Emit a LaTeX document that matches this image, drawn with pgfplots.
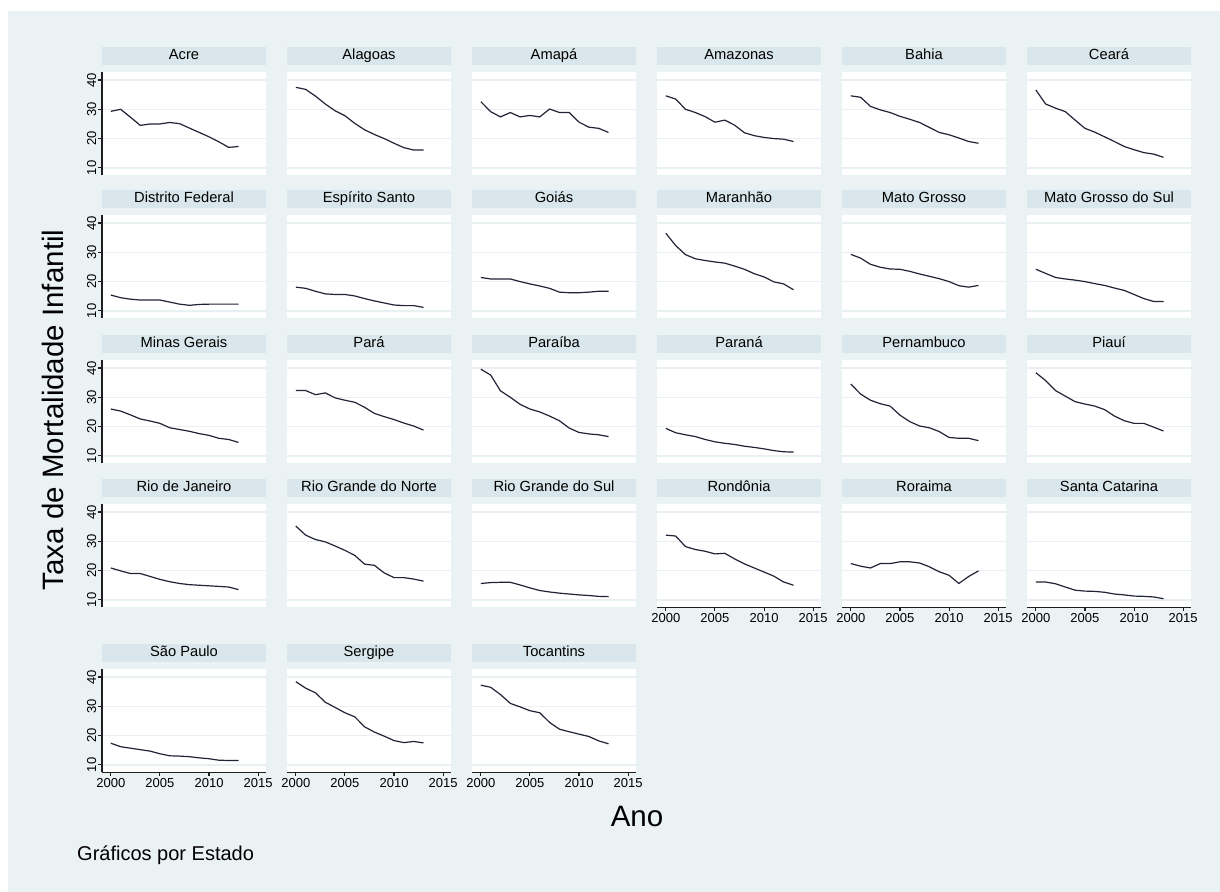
\documentclass[border=0pt]{standalone}
\usepackage{pgfplots}
\usepackage{pgfplotstable}
\pgfplotsset{compat=1.18}
\usepackage{fontspec}
\setmainfont{Liberation Sans}
\definecolor{bgc}{RGB}{234,242,243}
\definecolor{hdrc}{RGB}{217,230,235}
\definecolor{gridc}{RGB}{232,240,242}
\definecolor{linec}{RGB}{35,35,55}
\definecolor{axc}{RGB}{30,30,30}
\newcommand\tfont{\fontsize{14.7bp}{16bp}\selectfont}
\newcommand\tickfont{\fontsize{13bp}{14bp}\selectfont}

\pgfplotstableread{
yr   ac   al   ap   am   ba   ce   df   es   go   ma   mt   ms   mg   pa   pb   pr   pe   pi   rj   rn   rs   ro   rr   sc   sp   se   to
2000 29.3 37.5 32.6 34.6 34.6 36.6 15.4 18.1 21.4 36.5 29.3 24.2 26.0 32.3 39.6 19.4 34.5 38.4 20.9 35.2 15.6 32.1 22.4 16.1 17.4 38.4 37.2
2001 30.0 36.8 29.2 33.5 34.1 31.8 14.5 17.7 20.9 32.3 28.0 22.8 25.3 32.3 37.6 17.9 31.1 35.7 19.9 32.1 15.9 31.8 21.5 16.1 16.2 36.2 36.5
2002 27.3 34.5 27.4 30.0 31.0 30.4 14.0 16.7 20.9 29.2 25.9 21.4 24.0 30.9 32.2 17.2 29.0 32.3 19.0 30.6 16.0 28.2 20.9 15.5 15.7 34.6 34.0
2003 24.5 31.8 28.9 28.9 29.8 29.2 13.7 15.8 20.9 27.8 24.9 20.9 22.6 31.5 30.0 16.6 27.8 30.4 19.0 29.8 16.0 27.2 22.4 14.4 15.2 31.4 31.0
2004 25.0 29.5 27.4 27.5 28.9 26.3 13.7 15.6 20.0 27.2 24.3 20.5 21.9 29.8 27.6 15.6 27.0 28.5 18.0 28.4 15.1 26.6 22.4 13.3 14.7 29.6 29.8
2005 25.0 27.8 27.9 25.6 27.6 23.5 13.7 15.6 19.2 26.7 24.2 20.0 21.1 29.0 26.0 14.8 23.9 27.7 17.0 26.9 14.1 25.7 23.0 13.0 13.8 27.8 28.5
2006 25.5 25.2 27.4 26.3 26.6 22.2 13.0 15.1 18.5 26.3 23.5 19.3 19.6 28.3 25.0 14.3 21.7 27.0 16.2 25.2 13.2 25.9 23.0 12.9 13.1 26.4 27.8
2007 25.1 23.0 30.1 24.6 25.5 20.6 12.3 14.2 17.7 25.3 22.6 18.7 19.0 26.6 23.6 13.9 20.2 25.8 15.6 22.2 12.7 24.0 22.6 12.6 13.0 23.0 24.5
2008 23.6 21.4 28.9 22.0 23.8 19.0 11.9 13.4 16.4 24.2 21.8 17.8 18.4 24.5 22.0 13.3 19.6 23.6 15.2 21.8 12.3 22.3 21.3 12.0 12.8 21.2 22.2
2009 22.1 20.0 28.9 21.0 22.1 17.3 12.2 12.7 16.2 22.7 21.0 17.0 17.6 23.4 19.5 12.9 18.3 22.0 15.0 19.2 12.0 20.9 19.6 11.7 12.4 19.8 21.3
2010 20.6 18.4 25.6 20.4 21.3 16.2 12.3 12.0 16.2 21.6 20.0 15.6 17.0 22.4 18.0 12.4 16.3 21.1 14.8 17.6 11.7 19.5 18.4 11.3 12.1 18.3 20.5
2011 18.9 16.9 23.9 20.0 20.2 15.2 12.3 11.8 16.4 19.9 18.6 14.2 16.0 21.2 17.5 11.8 16.0 21.1 14.6 17.6 11.5 18.1 15.6 11.2 11.6 17.6 19.7
2012 17.0 16.1 23.5 19.8 19.0 14.7 12.3 11.8 16.7 19.2 18.1 13.2 15.6 20.2 17.2 11.4 16.0 19.8 14.4 17.1 11.2 16.1 18.0 11.0 11.5 18.0 18.2
2013 17.3 16.1 22.1 19.0 18.4 13.6 12.3 11.2 16.7 17.2 18.7 13.2 14.6 18.8 16.6 11.3 15.2 18.5 13.5 16.4 11.1 15.0 19.9 10.4 11.5 17.5 17.2
}\data

\pgfplotsset{
  panel/.style={
    scale only axis, width=164bp, height=103.1bp, anchor=south west,
    xmin=1999.1, xmax=2015.8, ymin=7.5, ymax=42.7,
    axis background/.style={fill=white},
    axis x line*=bottom, axis y line*=left,
    x axis line style={draw=none}, y axis line style={draw=none},
    xtick=\empty, ytick={10,20,30,40}, yticklabels={{},{},{},{}},
    ymajorgrids, major grid style={draw=gridc, line width=1.3bp},
    ytick style={draw=none},
    tick align=outside, major tick length=4bp,
    title style={at={(0.5,1)}, anchor=south, yshift=1bp, fill=hdrc,
      minimum width=164bp, minimum height=18bp, inner sep=0pt,
      text height=10.5bp, text depth=3bp, font=\tfont},
  },
  leftax/.style={
    y axis line style={draw=axc, line width=1.1bp},
    ytick style={draw=axc, line width=1.1bp},
    yticklabels={10,20,30,40},
    yticklabel style={rotate=90, anchor=south, font=\tickfont, inner sep=1.5bp},
  },
  bottomax/.style={
    x axis line style={draw=axc, line width=1.1bp},
    xtick={2000,2005,2010,2015},
    xticklabels={2000,2005,2010,2015},
    xtick style={draw=axc, line width=1.1bp},
    xticklabel style={font=\tickfont, inner sep=2bp},
  },
}
\newcommand{\panel}[5]{%
\begin{axis}[panel, at={(#1bp,-#2bp)}, title={#3}, #5]
\addplot[draw=linec, line width=1.2bp, no marks] table[x=yr, y=#4] {\data};
\end{axis}}

\begin{document}
\begin{tikzpicture}
\path[use as bounding box] (0,0) rectangle (1220bp,-892bp);
\fill[white] (0,0) rectangle (1220bp,-892bp);
\fill[bgc] (8bp,-11bp) rectangle (1220bp,-892bp);
% row 1
\panel{102}{175.2}{Acre}{ac}{leftax}
\panel{287}{175.2}{Alagoas}{al}{}
\panel{472}{175.2}{Amapá}{ap}{}
\panel{657}{175.2}{Amazonas}{am}{}
\panel{842}{175.2}{Bahia}{ba}{}
\panel{1027}{175.2}{Ceará}{ce}{}
% row 2
\panel{102}{318.2}{Distrito Federal}{df}{leftax}
\panel{287}{318.2}{Espírito Santo}{es}{}
\panel{472}{318.2}{Goiás}{go}{}
\panel{657}{318.2}{Maranhão}{ma}{}
\panel{842}{318.2}{Mato Grosso}{mt}{}
\panel{1027}{318.2}{Mato Grosso do Sul}{ms}{}
% row 3
\panel{102}{463.2}{Minas Gerais}{mg}{leftax}
\panel{287}{463.2}{Pará}{pa}{}
\panel{472}{463.2}{Paraíba}{pb}{}
\panel{657}{463.2}{Paraná}{pr}{}
\panel{842}{463.2}{Pernambuco}{pe}{}
\panel{1027}{463.2}{Piauí}{pi}{}
% row 4
\panel{102}{607.2}{Rio de Janeiro}{rj}{leftax}
\panel{287}{607.2}{Rio Grande do Norte}{rn}{}
\panel{472}{607.2}{Rio Grande do Sul}{rs}{}
\panel{657}{607.2}{Rondônia}{ro}{bottomax}
\panel{842}{607.2}{Roraima}{rr}{bottomax}
\panel{1027}{607.2}{Santa Catarina}{sc}{bottomax}
% row 5
\panel{102}{772.2}{São Paulo}{sp}{leftax,bottomax}
\panel{287}{772.2}{Sergipe}{se}{bottomax}
\panel{472}{772.2}{Tocantins}{to}{bottomax}
% titles
\node[rotate=90, anchor=base, inner sep=0pt, font=\fontsize{29.5bp}{32bp}\selectfont] at (63bp,-410bp) {Taxa de Mortalidade Infantil};
\node[anchor=base, inner sep=0pt, font=\fontsize{29.5bp}{32bp}\selectfont] at (637bp,-826bp) {Ano};
\node[anchor=base west, inner sep=0pt, font=\fontsize{20bp}{22bp}\selectfont] at (77bp,-860bp) {Gráficos por Estado};
\end{tikzpicture}
\end{document}
